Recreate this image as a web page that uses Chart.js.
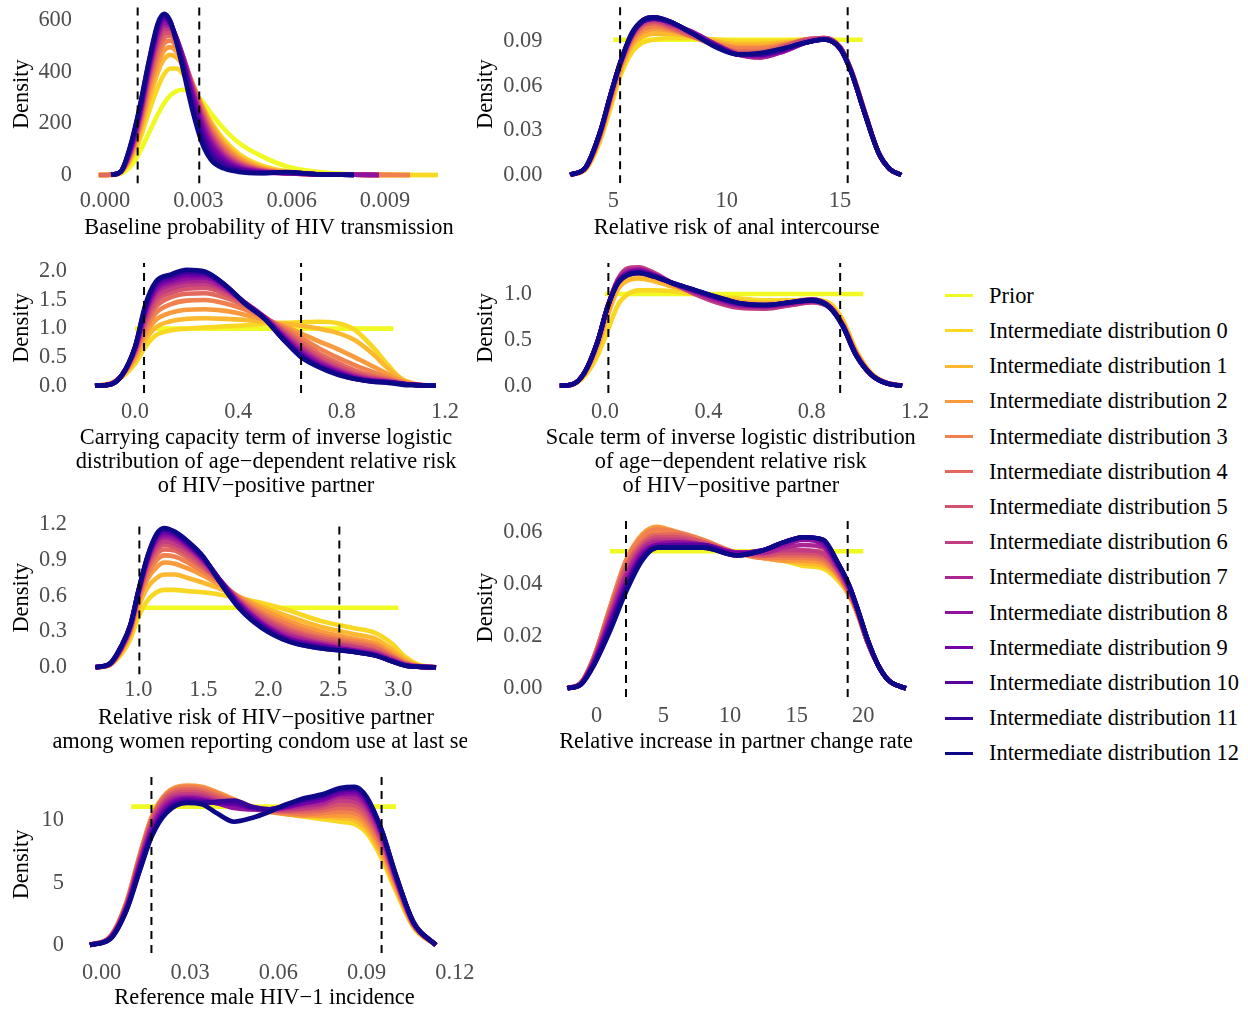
<!DOCTYPE html>
<html>
<head>
<meta charset="utf-8">
<script src="https://cdn.jsdelivr.net/npm/chart.js@4.4.1/dist/chart.umd.min.js"></script>
<style>
  html, body { margin: 0; padding: 0; background: #ffffff; }
  body { width: 1248px; height: 1013px; position: relative; overflow: hidden;
         font-family: "Liberation Serif", "Times New Roman", serif; }
  canvas { position: absolute; }
  .key { position: absolute; width: 28px; height: 3px; }
  .lab { position: absolute; font-size: 22.4px; line-height: 26px; color: #000; white-space: nowrap; }
</style>
</head>
<body>
<script>
// ---------- series ----------
const SERIES_NAMES = [
  "Prior",
  "Intermediate distribution 0", "Intermediate distribution 1", "Intermediate distribution 2",
  "Intermediate distribution 3", "Intermediate distribution 4", "Intermediate distribution 5",
  "Intermediate distribution 6", "Intermediate distribution 7", "Intermediate distribution 8",
  "Intermediate distribution 9", "Intermediate distribution 10", "Intermediate distribution 11",
  "Intermediate distribution 12"
];
const SERIES_COLORS = [
  "#F0F921", "#F9D824", "#FCB82E", "#F99B3D", "#F0814E", "#E3695E", "#D4526F",
  "#C13C82", "#AB2693", "#9212A0", "#7603A7", "#5802A2", "#350498", "#0D0887"
];

// ---------- Baseline probability of HIV transmission ----------
const baselineX = [-0.0002, 0.0002, 0.0005, 0.0008, 0.0011, 0.0014, 0.0017, 0.0019, 0.0021, 0.0023, 0.0025,
  0.0028, 0.0031, 0.0034, 0.0038, 0.0043, 0.0050, 0.0058, 0.0068, 0.0080, 0.0088, 0.0098, 0.0107];
const baselinePrior = [0, 0.5, 5, 30, 85, 160, 235, 278, 308, 325, 330, 318, 290, 240, 182, 125, 75, 35, 12, 3, 1, 0.2, 0];
const baselineInter = [
  [0, 1, 9, 50, 130, 240, 340, 390, 412, 412, 392, 338, 272, 208, 140, 82, 38, 15, 5, 1.5, 0.5, 0.2, 0],
  [0, 1, 10, 58, 152, 282, 398, 448, 465, 455, 425, 355, 275, 202, 130, 72, 31, 12, 4, 1, 0.3, 0, null],
  [0, 1, 11, 64, 168, 310, 432, 482, 495, 478, 440, 358, 270, 193, 120, 64, 27, 10, 3, 1, 0.3, 0, null],
  [0, 1, 11, 70, 180, 333, 460, 510, 520, 498, 452, 358, 262, 182, 110, 57, 23, 9, 3, 1, 0.3, 0, null],
  [0, 1, 12, 75, 192, 352, 484, 532, 540, 512, 460, 354, 252, 170, 100, 50, 20, 8, 3, 1, 0.2, null, null],
  [null, 1, 12, 80, 202, 368, 505, 550, 553, 520, 462, 348, 242, 160, 91, 45, 18, 7, 3, 1, 0.2, null, null],
  [null, 1, 12, 84, 210, 382, 522, 566, 565, 527, 463, 342, 232, 150, 83, 40, 16, 7, 3, 1, 0.2, null, null],
  [null, 1, 12, 88, 218, 393, 538, 579, 574, 530, 460, 334, 220, 138, 75, 35, 14, 7, 3, 1, 0.2, null, null],
  [null, 1, 12, 92, 226, 404, 552, 591, 580, 530, 455, 324, 206, 126, 67, 30, 12, 7, 3, 1, 0.2, null, null],
  [null, 0.5, 12, 96, 234, 414, 564, 602, 586, 528, 448, 310, 190, 112, 58, 26, 11, 8, 3, 0.5, null, null, null],
  [null, 0.5, 12, 100, 242, 422, 574, 610, 590, 524, 438, 294, 172, 96, 48, 21, 9, 9, 3, 0.5, null, null, null],
  [null, 0.5, 12, 104, 250, 430, 582, 617, 594, 518, 426, 276, 154, 80, 38, 16, 8, 10, 3, 0.5, null, null, null],
  [null, 0.5, 12, 108, 256, 436, 588, 624, 596, 512, 412, 255, 130, 60, 26, 12, 7, 11, 3, 0.5, null, null, null]
];
const baselineCuts = [0.00105, 0.00303];
const baselineXTicks = [0, 0.003, 0.006, 0.009];
const baselineXLabels = ["0.000", "0.003", "0.006", "0.009"];
const baselineYTicks = [0, 200, 400, 600];
const baselineYLabels = ["0", "200", "400", "600"];

// ---------- Relative risk of anal intercourse ----------
const analX = [3.1, 3.8, 4.4, 4.9, 5.3, 5.8, 6.3, 6.8, 7.5, 8.5, 9.5, 10.5, 11.5, 12.5, 13.5, 14.3, 15.0, 15.5, 16.1, 16.7, 17.2, 17.7];
const analPriorX = [5, 16];
const analPriorY = [0.0909, 0.0909];
const analInter = [
  [0, 0.004, 0.022, 0.046, 0.066, 0.082, 0.089, 0.091, 0.092, 0.092, 0.091, 0.090, 0.090, 0.090, 0.091, 0.091, 0.085, 0.069, 0.041, 0.015, 0.004, 0],
  [0, 0.0045, 0.024, 0.049, 0.069, 0.086, 0.093, 0.095, 0.095, 0.093, 0.090, 0.088, 0.088, 0.089, 0.090, 0.091, 0.085, 0.069, 0.041, 0.015, 0.004, 0],
  [0, 0.0048, 0.025, 0.051, 0.071, 0.088, 0.096, 0.098, 0.097, 0.093, 0.089, 0.086, 0.086, 0.088, 0.090, 0.091, 0.085, 0.070, 0.042, 0.015, 0.004, 0],
  [0, 0.005, 0.026, 0.052, 0.072, 0.090, 0.098, 0.100, 0.098, 0.093, 0.088, 0.085, 0.085, 0.087, 0.090, 0.091, 0.085, 0.070, 0.042, 0.015, 0.004, 0],
  [0, 0.005, 0.026, 0.053, 0.073, 0.091, 0.100, 0.102, 0.099, 0.093, 0.087, 0.083, 0.083, 0.087, 0.091, 0.092, 0.086, 0.070, 0.042, 0.015, 0.004, 0],
  [0, 0.0052, 0.027, 0.054, 0.074, 0.092, 0.101, 0.103, 0.100, 0.094, 0.087, 0.082, 0.081, 0.086, 0.091, 0.092, 0.086, 0.070, 0.042, 0.015, 0.004, 0],
  [0, 0.0053, 0.027, 0.054, 0.074, 0.093, 0.102, 0.104, 0.101, 0.095, 0.087, 0.081, 0.079, 0.084, 0.090, 0.092, 0.086, 0.070, 0.042, 0.015, 0.004, 0],
  [0, 0.0054, 0.027, 0.054, 0.075, 0.093, 0.103, 0.105, 0.102, 0.096, 0.088, 0.081, 0.079, 0.083, 0.089, 0.091, 0.086, 0.070, 0.042, 0.015, 0.004, 0],
  [0, 0.0055, 0.028, 0.055, 0.075, 0.094, 0.103, 0.105, 0.102, 0.096, 0.088, 0.081, 0.080, 0.083, 0.089, 0.091, 0.085, 0.069, 0.041, 0.015, 0.004, 0],
  [0, 0.0055, 0.028, 0.055, 0.075, 0.094, 0.104, 0.106, 0.103, 0.095, 0.087, 0.081, 0.081, 0.084, 0.089, 0.091, 0.085, 0.069, 0.041, 0.015, 0.004, 0],
  [0, 0.0056, 0.028, 0.055, 0.075, 0.094, 0.104, 0.106, 0.103, 0.095, 0.087, 0.081, 0.081, 0.084, 0.089, 0.091, 0.085, 0.069, 0.041, 0.015, 0.004, 0],
  [0, 0.0056, 0.028, 0.055, 0.075, 0.094, 0.103, 0.105, 0.103, 0.095, 0.087, 0.081, 0.081, 0.085, 0.089, 0.091, 0.085, 0.069, 0.041, 0.015, 0.004, 0],
  [0, 0.0056, 0.028, 0.055, 0.075, 0.095, 0.104, 0.106, 0.103, 0.095, 0.086, 0.081, 0.082, 0.085, 0.089, 0.091, 0.085, 0.069, 0.041, 0.015, 0.004, 0]
];
const analCuts = [5.3, 15.34];
const analXTicks = [5, 10, 15];
const analXLabels = ["5", "10", "15"];
const analYTicks = [0, 0.03, 0.06, 0.09];
const analYLabels = ["0.00", "0.03", "0.06", "0.09"];

// ---------- Carrying capacity term ----------
const capacityX = [-0.155, -0.1, -0.05, 0.0, 0.04, 0.08, 0.14, 0.2, 0.27, 0.35, 0.43, 0.5, 0.57, 0.64, 0.71, 0.78, 0.85, 0.92, 0.98, 1.04, 1.1, 1.165];
const capacityPriorX = [0, 1];
const capacityPriorY = [1, 1];
const capacityInter = [
  [0, 0.03, 0.15, 0.38, 0.68, 0.88, 0.97, 1.00, 1.02, 1.04, 1.06, 1.08, 1.10, 1.11, 1.12, 1.10, 0.98, 0.68, 0.36, 0.08, 0.01, 0],
  [0, 0.03, 0.17, 0.45, 0.80, 1.02, 1.13, 1.17, 1.18, 1.17, 1.15, 1.12, 1.09, 1.05, 1.00, 0.93, 0.80, 0.56, 0.30, 0.10, 0.02, 0],
  [0, 0.03, 0.18, 0.50, 0.90, 1.15, 1.28, 1.33, 1.34, 1.31, 1.24, 1.16, 1.05, 0.92, 0.78, 0.65, 0.50, 0.34, 0.20, 0.07, 0.015, 0],
  [0, 0.025, 0.18, 0.55, 0.98, 1.27, 1.43, 1.49, 1.50, 1.44, 1.33, 1.19, 1.03, 0.85, 0.66, 0.50, 0.36, 0.24, 0.14, 0.05, 0.01, 0],
  [0, 0.022, 0.18, 0.58, 1.06, 1.38, 1.55, 1.61, 1.62, 1.54, 1.39, 1.21, 1.00, 0.78, 0.57, 0.41, 0.27, 0.17, 0.11, 0.04, 0.01, 0],
  [0, 0.02, 0.18, 0.60, 1.12, 1.47, 1.63, 1.70, 1.71, 1.61, 1.42, 1.21, 0.97, 0.72, 0.51, 0.35, 0.22, 0.14, 0.09, 0.04, 0.01, 0],
  [0, 0.02, 0.18, 0.62, 1.18, 1.55, 1.70, 1.77, 1.78, 1.66, 1.44, 1.21, 0.94, 0.68, 0.46, 0.31, 0.19, 0.12, 0.08, 0.03, 0.01, 0],
  [0, 0.02, 0.18, 0.64, 1.24, 1.62, 1.77, 1.83, 1.84, 1.69, 1.44, 1.20, 0.91, 0.64, 0.43, 0.28, 0.17, 0.10, 0.07, 0.03, 0.01, 0],
  [0, 0.018, 0.19, 0.65, 1.28, 1.67, 1.82, 1.88, 1.89, 1.72, 1.44, 1.20, 0.89, 0.60, 0.40, 0.26, 0.15, 0.09, 0.07, 0.03, 0.01, 0],
  [0, 0.017, 0.19, 0.66, 1.32, 1.72, 1.86, 1.93, 1.93, 1.74, 1.43, 1.19, 0.87, 0.57, 0.37, 0.24, 0.14, 0.08, 0.06, 0.03, 0.008, 0],
  [0, 0.016, 0.19, 0.67, 1.35, 1.76, 1.90, 1.97, 1.96, 1.75, 1.43, 1.18, 0.85, 0.55, 0.35, 0.22, 0.12, 0.08, 0.06, 0.03, 0.008, 0],
  [0, 0.015, 0.19, 0.68, 1.38, 1.79, 1.93, 2.00, 1.98, 1.76, 1.42, 1.18, 0.83, 0.53, 0.34, 0.21, 0.12, 0.07, 0.06, 0.03, 0.008, 0],
  [0, 0.015, 0.19, 0.68, 1.42, 1.82, 1.95, 2.03, 2.00, 1.76, 1.42, 1.18, 0.83, 0.51, 0.33, 0.20, 0.12, 0.07, 0.05, 0.015, 0.005, 0]
];
const capacityCuts = [0.035, 0.643];
const capacityXTicks = [0, 0.4, 0.8, 1.2];
const capacityXLabels = ["0.0", "0.4", "0.8", "1.2"];
const capacityYTicks = [0, 0.5, 1, 1.5, 2];
const capacityYLabels = ["0.0", "0.5", "1.0", "1.5", "2.0"];

// ---------- Scale term ----------
const scaleX = [-0.175, -0.13, -0.08, -0.03, 0.01, 0.05, 0.09, 0.13, 0.19, 0.26, 0.34, 0.43, 0.52, 0.62, 0.72, 0.8, 0.87, 0.92, 0.97, 1.03, 1.09, 1.15];
const scalePriorX = [0, 1];
const scalePriorY = [1, 1];
const scaleInter = [
  [0, 0.01, 0.10, 0.32, 0.60, 0.88, 1.00, 1.04, 1.04, 1.03, 1.00, 0.97, 0.95, 0.93, 0.93, 0.94, 0.90, 0.72, 0.40, 0.14, 0.03, 0],
  [0, 0.01, 0.12, 0.40, 0.76, 1.05, 1.15, 1.17, 1.14, 1.08, 1.02, 0.96, 0.92, 0.90, 0.92, 0.94, 0.88, 0.70, 0.38, 0.13, 0.03, 0],
  [0, 0.01, 0.13, 0.43, 0.80, 1.10, 1.20, 1.22, 1.18, 1.10, 1.03, 0.95, 0.90, 0.88, 0.91, 0.93, 0.87, 0.68, 0.37, 0.13, 0.03, 0],
  [0, 0.01, 0.13, 0.45, 0.83, 1.13, 1.24, 1.25, 1.20, 1.11, 1.03, 0.94, 0.88, 0.87, 0.90, 0.92, 0.86, 0.67, 0.36, 0.13, 0.03, 0],
  [0, 0.01, 0.14, 0.46, 0.85, 1.15, 1.26, 1.27, 1.21, 1.12, 1.02, 0.93, 0.87, 0.86, 0.89, 0.92, 0.86, 0.67, 0.36, 0.12, 0.03, 0],
  [0, 0.01, 0.14, 0.47, 0.86, 1.16, 1.27, 1.28, 1.22, 1.12, 1.02, 0.92, 0.86, 0.85, 0.88, 0.91, 0.85, 0.66, 0.35, 0.12, 0.03, 0],
  [0, 0.01, 0.14, 0.47, 0.86, 1.16, 1.28, 1.29, 1.23, 1.12, 1.01, 0.91, 0.85, 0.84, 0.88, 0.91, 0.85, 0.66, 0.35, 0.12, 0.03, 0],
  [0, 0.01, 0.14, 0.47, 0.86, 1.15, 1.26, 1.27, 1.21, 1.12, 1.03, 0.93, 0.87, 0.86, 0.89, 0.92, 0.86, 0.66, 0.35, 0.12, 0.03, 0],
  [0, 0.01, 0.14, 0.47, 0.86, 1.14, 1.24, 1.26, 1.21, 1.12, 1.04, 0.95, 0.88, 0.87, 0.90, 0.93, 0.86, 0.66, 0.35, 0.12, 0.025, 0],
  [0, 0.01, 0.14, 0.47, 0.86, 1.13, 1.23, 1.25, 1.20, 1.12, 1.04, 0.96, 0.89, 0.87, 0.91, 0.94, 0.86, 0.66, 0.35, 0.12, 0.025, 0],
  [0, 0.01, 0.14, 0.47, 0.86, 1.13, 1.22, 1.24, 1.20, 1.12, 1.05, 0.96, 0.90, 0.88, 0.91, 0.94, 0.86, 0.65, 0.34, 0.12, 0.025, 0],
  [0, 0.01, 0.14, 0.47, 0.86, 1.12, 1.21, 1.23, 1.19, 1.12, 1.05, 0.97, 0.90, 0.88, 0.91, 0.93, 0.85, 0.65, 0.34, 0.12, 0.025, 0],
  [0, 0.01, 0.14, 0.47, 0.86, 1.12, 1.21, 1.23, 1.19, 1.12, 1.05, 0.97, 0.90, 0.88, 0.91, 0.93, 0.85, 0.65, 0.34, 0.12, 0.025, 0]
];
const scaleCuts = [0.013, 0.91];
const scaleXTicks = [0, 0.4, 0.8, 1.2];
const scaleXLabels = ["0.0", "0.4", "0.8", "1.2"];
const scaleYTicks = [0, 0.5, 1];
const scaleYLabels = ["0.0", "0.5", "1.0"];

// ---------- Relative risk among women reporting condom use ----------
const condomX = [0.67, 0.78, 0.87, 0.94, 1.0, 1.07, 1.14, 1.2, 1.28, 1.38, 1.5, 1.63, 1.78, 1.95, 2.15, 2.4, 2.65, 2.82, 2.95, 3.05, 3.15, 3.29];
const condomPriorX = [1, 3];
const condomPriorY = [0.5, 0.5];
const condomInter = [
  [0, 0.02, 0.11, 0.24, 0.42, 0.56, 0.63, 0.65, 0.65, 0.64, 0.63, 0.61, 0.58, 0.54, 0.48, 0.39, 0.33, 0.29, 0.20, 0.09, 0.025, 0],
  [0, 0.02, 0.13, 0.28, 0.50, 0.67, 0.75, 0.78, 0.78, 0.75, 0.71, 0.66, 0.59, 0.51, 0.43, 0.34, 0.28, 0.24, 0.15, 0.07, 0.015, 0],
  [0, 0.02, 0.14, 0.30, 0.54, 0.74, 0.84, 0.88, 0.87, 0.83, 0.77, 0.69, 0.59, 0.49, 0.39, 0.30, 0.24, 0.20, 0.12, 0.05, 0.012, 0],
  [0, 0.02, 0.15, 0.31, 0.56, 0.78, 0.90, 0.94, 0.93, 0.88, 0.80, 0.71, 0.58, 0.46, 0.36, 0.27, 0.22, 0.18, 0.10, 0.04, 0.01, 0],
  [0, 0.02, 0.15, 0.32, 0.58, 0.82, 0.95, 0.99, 0.98, 0.92, 0.83, 0.72, 0.57, 0.44, 0.33, 0.25, 0.20, 0.16, 0.09, 0.035, 0.01, 0],
  [0, 0.025, 0.16, 0.33, 0.60, 0.85, 0.99, 1.03, 1.01, 0.95, 0.85, 0.72, 0.56, 0.42, 0.31, 0.23, 0.18, 0.14, 0.08, 0.03, 0.008, 0],
  [0, 0.025, 0.16, 0.34, 0.61, 0.87, 1.02, 1.06, 1.04, 0.98, 0.87, 0.73, 0.55, 0.40, 0.29, 0.21, 0.17, 0.13, 0.07, 0.025, 0.007, 0],
  [0, 0.025, 0.17, 0.34, 0.62, 0.89, 1.05, 1.09, 1.07, 1.00, 0.89, 0.73, 0.54, 0.38, 0.27, 0.20, 0.15, 0.12, 0.06, 0.02, 0.006, 0],
  [0, 0.027, 0.17, 0.35, 0.63, 0.90, 1.07, 1.11, 1.09, 1.02, 0.90, 0.73, 0.53, 0.37, 0.25, 0.19, 0.14, 0.11, 0.06, 0.02, 0.005, 0],
  [0, 0.028, 0.17, 0.35, 0.63, 0.91, 1.09, 1.13, 1.11, 1.03, 0.91, 0.73, 0.52, 0.36, 0.24, 0.18, 0.14, 0.10, 0.055, 0.018, 0.005, 0],
  [0, 0.029, 0.18, 0.36, 0.64, 0.92, 1.10, 1.15, 1.12, 1.04, 0.92, 0.73, 0.51, 0.35, 0.23, 0.17, 0.13, 0.10, 0.05, 0.016, 0.004, 0],
  [0, 0.03, 0.18, 0.36, 0.64, 0.93, 1.11, 1.16, 1.13, 1.05, 0.92, 0.72, 0.50, 0.34, 0.22, 0.16, 0.13, 0.10, 0.05, 0.015, 0.004, 0],
  [0, 0.03, 0.18, 0.36, 0.64, 0.93, 1.12, 1.17, 1.14, 1.06, 0.93, 0.71, 0.49, 0.33, 0.22, 0.16, 0.13, 0.10, 0.05, 0.015, 0.004, 0]
];
const condomCuts = [1.008, 2.546];
const condomXTicks = [1, 1.5, 2, 2.5, 3];
const condomXLabels = ["1.0", "1.5", "2.0", "2.5", "3.0"];
const condomYTicks = [0, 0.3, 0.6, 0.9, 1.2];
const condomYLabels = ["0.0", "0.3", "0.6", "0.9", "1.2"];

// ---------- Relative increase in partner change rate ----------
const partnerX = [-2.2, -1.2, -0.2, 1.0, 2.2, 3.4, 4.5, 6, 8, 10.5, 12.5, 14, 15.5, 17, 18, 18.9, 19.6, 20.3, 21.1, 21.9, 22.6, 23.2];
const partnerPriorX = [1, 20];
const partnerPriorY = [0.0526, 0.0526];
const partnerInter = [
  [0, 0.002, 0.012, 0.030, 0.046, 0.054, 0.057, 0.057, 0.055, 0.052, 0.050, 0.049, 0.047, 0.046, 0.042, 0.036, 0.028, 0.018, 0.009, 0.003, 0.001, 0],
  [0, 0.002, 0.012, 0.031, 0.048, 0.057, 0.060, 0.059, 0.056, 0.052, 0.050, 0.049, 0.048, 0.047, 0.043, 0.036, 0.028, 0.018, 0.009, 0.003, 0.001, 0],
  [0, 0.002, 0.012, 0.031, 0.049, 0.059, 0.062, 0.060, 0.056, 0.052, 0.050, 0.049, 0.049, 0.048, 0.044, 0.037, 0.028, 0.018, 0.009, 0.003, 0.001, 0],
  [0, 0.002, 0.012, 0.031, 0.049, 0.058, 0.061, 0.060, 0.057, 0.052, 0.050, 0.050, 0.050, 0.049, 0.044, 0.037, 0.029, 0.018, 0.009, 0.003, 0.001, 0],
  [0, 0.002, 0.012, 0.030, 0.047, 0.056, 0.059, 0.059, 0.056, 0.052, 0.051, 0.051, 0.051, 0.050, 0.045, 0.037, 0.029, 0.018, 0.009, 0.003, 0.001, 0],
  [0, 0.002, 0.011, 0.029, 0.046, 0.055, 0.058, 0.058, 0.056, 0.052, 0.051, 0.052, 0.052, 0.051, 0.046, 0.038, 0.029, 0.018, 0.009, 0.003, 0.001, 0],
  [0, 0.0018, 0.011, 0.028, 0.044, 0.054, 0.057, 0.057, 0.055, 0.052, 0.052, 0.053, 0.053, 0.052, 0.046, 0.038, 0.029, 0.018, 0.009, 0.003, 0.001, 0],
  [0, 0.0017, 0.011, 0.027, 0.043, 0.053, 0.056, 0.056, 0.055, 0.052, 0.052, 0.054, 0.055, 0.054, 0.047, 0.039, 0.029, 0.018, 0.009, 0.003, 0.001, 0],
  [0, 0.0016, 0.010, 0.026, 0.041, 0.052, 0.055, 0.056, 0.055, 0.052, 0.053, 0.055, 0.057, 0.055, 0.048, 0.039, 0.030, 0.019, 0.009, 0.003, 0.001, 0],
  [0, 0.0015, 0.010, 0.025, 0.040, 0.051, 0.055, 0.055, 0.055, 0.052, 0.053, 0.056, 0.058, 0.056, 0.048, 0.040, 0.030, 0.019, 0.009, 0.003, 0.001, 0],
  [0, 0.0015, 0.0095, 0.024, 0.039, 0.050, 0.054, 0.055, 0.055, 0.051, 0.053, 0.056, 0.058, 0.057, 0.049, 0.040, 0.030, 0.019, 0.009, 0.003, 0.001, 0],
  [0, 0.0014, 0.009, 0.023, 0.038, 0.050, 0.054, 0.054, 0.054, 0.051, 0.053, 0.056, 0.058, 0.057, 0.049, 0.040, 0.030, 0.019, 0.009, 0.003, 0.001, 0],
  [0, 0.0014, 0.009, 0.022, 0.037, 0.049, 0.054, 0.054, 0.054, 0.051, 0.053, 0.056, 0.058, 0.057, 0.049, 0.040, 0.030, 0.019, 0.009, 0.003, 0.001, 0]
];
const partnerCuts = [2.2, 18.83];
const partnerXTicks = [0, 5, 10, 15, 20];
const partnerXLabels = ["0", "5", "10", "15", "20"];
const partnerYTicks = [0, 0.02, 0.04, 0.06];
const partnerYLabels = ["0.00", "0.02", "0.04", "0.06"];

// ---------- Reference male HIV-1 incidence ----------
const incidenceX = [-0.004, 0.003, 0.0085, 0.013, 0.017, 0.022, 0.029, 0.034, 0.039, 0.045, 0.051, 0.057, 0.063, 0.069, 0.075, 0.081, 0.086, 0.09, 0.095, 0.1, 0.106, 0.1135];
const incidencePriorX = [0.01, 0.1];
const incidencePriorY = [11.11, 11.11];
const incidenceInter = [
  [0, 0.7, 3.5, 7.2, 10.0, 11.8, 12.3, 12.2, 11.9, 11.5, 11.1, 10.8, 10.5, 10.3, 10.1, 9.9, 9.7, 9.0, 7.0, 4.3, 1.4, 0],
  [0, 0.7, 3.5, 7.3, 10.2, 12.1, 12.6, 12.5, 12.1, 11.6, 11.1, 10.8, 10.5, 10.4, 10.3, 10.2, 10.0, 9.3, 7.3, 4.5, 1.5, 0],
  [0, 0.7, 3.5, 7.3, 10.3, 12.2, 12.8, 12.7, 12.3, 11.7, 11.1, 10.7, 10.5, 10.4, 10.4, 10.4, 10.3, 9.6, 7.6, 4.7, 1.5, 0],
  [0, 0.7, 3.4, 7.2, 10.2, 12.1, 12.7, 12.6, 12.2, 11.6, 11.1, 10.7, 10.6, 10.5, 10.6, 10.7, 10.6, 9.9, 7.9, 4.9, 1.6, 0],
  [0, 0.7, 3.4, 7.1, 10.1, 12.0, 12.5, 12.4, 12.0, 11.5, 11.0, 10.8, 10.7, 10.7, 10.8, 11.0, 10.9, 10.2, 8.2, 5.0, 1.6, 0],
  [0, 0.65, 3.3, 7.0, 9.9, 11.8, 12.3, 12.2, 11.8, 11.3, 11.0, 10.8, 10.8, 10.9, 11.0, 11.3, 11.2, 10.5, 8.4, 5.1, 1.7, 0],
  [0, 0.6, 3.2, 6.8, 9.7, 11.6, 12.1, 12.0, 11.6, 11.2, 10.9, 10.8, 10.9, 11.0, 11.2, 11.6, 11.5, 10.8, 8.6, 5.2, 1.7, 0],
  [0, 0.6, 3.1, 6.7, 9.5, 11.4, 11.9, 11.8, 11.5, 11.1, 10.9, 10.9, 11.0, 11.2, 11.4, 11.9, 11.8, 11.1, 8.8, 5.3, 1.7, 0],
  [0, 0.6, 3.0, 6.5, 9.3, 11.2, 11.8, 11.7, 11.4, 11.0, 10.9, 10.9, 11.1, 11.4, 11.6, 12.1, 12.1, 11.3, 9.0, 5.4, 1.7, 0],
  [0, 0.55, 3.0, 6.4, 9.1, 11.0, 11.7, 11.6, 11.4, 11.3, 11.0, 10.9, 11.1, 11.4, 11.7, 12.2, 12.3, 11.5, 9.1, 5.5, 1.8, 0],
  [0, 0.55, 2.9, 6.2, 8.9, 10.8, 11.6, 11.5, 11.4, 11.4, 11.0, 10.9, 11.2, 11.6, 11.9, 12.4, 12.5, 11.7, 9.2, 5.5, 1.8, 0],
  [0, 0.5, 2.9, 6.1, 8.8, 10.7, 11.5, 11.4, 11.5, 11.6, 11.1, 10.9, 11.3, 11.7, 12.0, 12.5, 12.6, 11.8, 9.3, 5.6, 1.8, 0],
  [0, 0.5, 2.8, 6.0, 8.7, 10.6, 11.4, 11.3, 10.6, 9.9, 10.2, 10.7, 11.3, 11.8, 12.1, 12.6, 12.7, 11.9, 9.3, 5.6, 1.8, 0]
];
const incidenceCuts = [0.0169, 0.0951];
const incidenceXTicks = [0, 0.03, 0.06, 0.09, 0.12];
const incidenceXLabels = ["0.00", "0.03", "0.06", "0.09", "0.12"];
const incidenceYTicks = [0, 5, 10];
const incidenceYLabels = ["0", "5", "10"];

// ---------- panel definitions ----------
// canvas: cx, cy, cw, ch (page px); plot area: L, T, R, B (page px)
const PANELS = [
  { x: baselineX, priorX: baselineX, priorY: baselinePrior, inter: baselineInter, cuts: baselineCuts,
    xt: baselineXTicks, xl: baselineXLabels, yt: baselineYTicks, yl: baselineYLabels,
    title: ["Baseline probability of HIV transmission"],
    cx: 0, cy: 0, cw: 468, ch: 245, L: 83, T: 5, R: 455, B: 183.5,
    xr: [-0.000707, 0.01125], yr: [-32.9, 658.1], tickPad: 7, titleBase: 234, titleGap: 24.5, yTitleX: 22 },
  { x: analX, priorX: analPriorX, priorY: analPriorY, inter: analInter, cuts: analCuts,
    xt: analXTicks, xl: analXLabels, yt: analYTicks, yl: analYLabels,
    title: ["Relative risk of anal intercourse"],
    cx: 470, cy: 0, cw: 460, ch: 245, L: 553.5, T: 5, R: 920, B: 183.3,
    xr: [2.362, 18.53], yr: [-0.00557, 0.1142], tickPad: 7, titleBase: 234, titleGap: 24.5, yTitleX: 486 },
  { x: capacityX, priorX: capacityPriorX, priorY: capacityPriorY, inter: capacityInter, cuts: capacityCuts,
    xt: capacityXTicks, xl: capacityXLabels, yt: capacityYTicks, yl: capacityYLabels,
    title: ["Carrying capacity term of inverse logistic",
            "distribution of age\u2212dependent relative risk",
            "of HIV\u2212positive partner"],
    cx: 0, cy: 245, cw: 468, ch: 255, L: 78, T: 263, R: 454, B: 393,
    xr: [-0.2207, 1.235], yr: [-0.128, 2.149], tickPad: 7.7, titleBase: 443.5, titleGap: 24.3, yTitleX: 22 },
  { x: scaleX, priorX: scalePriorX, priorY: scalePriorY, inter: scaleInter, cuts: scaleCuts,
    xt: scaleXTicks, xl: scaleXLabels, yt: scaleYTicks, yl: scaleYLabels,
    title: ["Scale term of inverse logistic distribution",
            "of age\u2212dependent relative risk",
            "of HIV\u2212positive partner"],
    cx: 470, cy: 245, cw: 460, ch: 255, L: 543, T: 263, R: 918.6, B: 393,
    xr: [-0.24, 1.2136], yr: [-0.0796, 1.338], tickPad: 7.7, titleBase: 443.5, titleGap: 24.3, yTitleX: 486 },
  { x: condomX, priorX: condomPriorX, priorY: condomPriorY, inter: condomInter, cuts: condomCuts,
    xt: condomXTicks, xl: condomXLabels, yt: condomYTicks, yl: condomYLabels,
    title: ["Relative risk of HIV\u2212positive partner",
            "among women reporting condom use at last sex"],
    cx: 0, cy: 500, cw: 467, ch: 255, L: 78, T: 521, R: 454, B: 674.5,
    xr: [0.536, 3.428], yr: [-0.0605, 1.229], tickPad: 4.5, titleBase: 723.5, titleGap: 24, yTitleX: 22 },
  { x: partnerX, priorX: partnerPriorX, priorY: partnerPriorY, inter: partnerInter, cuts: partnerCuts,
    xt: partnerXTicks, xl: partnerXLabels, yt: partnerYTicks, yl: partnerYLabels,
    title: ["Relative increase in partner change rate"],
    cx: 470, cy: 500, cw: 460, ch: 255, L: 553.4, T: 518.3, R: 918.6, B: 697,
    xr: [-3.248, 24.15], yr: [-0.00334, 0.06526], tickPad: 7.7, titleBase: 747.5, titleGap: 24, yTitleX: 486 },
  { x: incidenceX, priorX: incidencePriorX, priorY: incidencePriorY, inter: incidenceInter, cuts: incidenceCuts,
    xt: incidenceXTicks, xl: incidenceXLabels, yt: incidenceYTicks, yl: incidenceYLabels,
    title: ["Reference male HIV\u22121 incidence"],
    cx: 0, cy: 755, cw: 480, ch: 258, L: 75, T: 776, R: 454, B: 953,
    xr: [-0.00907, 0.1197], yr: [-0.643, 13.57], tickPad: 9.3, titleBase: 1003.5, titleGap: 24, yTitleX: 22 }
];

const FONT = "'Liberation Serif', 'Times New Roman', serif";
const FONT_SIZE = 22.4;
Chart.defaults.font.family = FONT;
Chart.defaults.font.size = FONT_SIZE;

// x-axis titles drawn centred under the plot area (long lines may run past the canvas edge)
const xTitlePlugin = {
  id: 'xTitle',
  afterDraw(chart, args, opts) {
    const { ctx, chartArea } = chart;
    ctx.save();
    ctx.font = FONT_SIZE + "px " + FONT;
    ctx.fillStyle = '#000000';
    ctx.textAlign = 'center';
    ctx.textBaseline = 'alphabetic';
    const mid = (chartArea.left + chartArea.right) / 2;
    opts.lines.forEach((t, i) => ctx.fillText(t, mid, opts.first + i * opts.gap));
    ctx.restore();
  }
};

function toPoints(xs, ys) {
  const pts = [];
  for (let i = 0; i < xs.length; i++) {
    if (ys[i] !== null && ys[i] !== undefined) pts.push({ x: xs[i], y: ys[i] });
  }
  return pts;
}

function zeroPad(s) { s.paddingTop = 0; s.paddingBottom = 0; s.paddingLeft = 0; s.paddingRight = 0; }

PANELS.forEach((p) => {
  const canvas = document.createElement('canvas');
  canvas.width = p.cw;
  canvas.height = p.ch;
  canvas.style.left = p.cx + 'px';
  canvas.style.top = p.cy + 'px';
  canvas.style.width = p.cw + 'px';
  canvas.style.height = p.ch + 'px';
  document.body.appendChild(canvas);

  const yAxisWidth = p.L - p.cx;
  const xAxisHeight = p.ch - (p.B - p.cy);
  const half = FONT_SIZE / 2;

  const datasets = [];
  // reference cut-offs on top of everything
  p.cuts.forEach((c) => {
    datasets.push({
      data: [{ x: c, y: p.yr[0] }, { x: c, y: p.yr[1] }],
      borderColor: '#000000', borderWidth: 2, borderDash: [8, 6],
      pointRadius: 0, fill: false, order: 0
    });
  });
  // prior then intermediate distributions; later ones drawn above earlier ones
  const series = [{ xs: p.priorX, ys: p.priorY }].concat(p.inter.map((ys) => ({ xs: p.x, ys })));
  series.forEach((s, i) => {
    datasets.push({
      label: SERIES_NAMES[i],
      data: toPoints(s.xs, s.ys),
      borderColor: SERIES_COLORS[i],
      borderWidth: 4.6,
      pointRadius: 0,
      fill: false,
      cubicInterpolationMode: 'monotone',
      borderCapStyle: 'butt',
      borderJoinStyle: 'round',
      order: 14 - i
    });
  });

  new Chart(canvas, {
    type: 'line',
    data: { datasets },
    plugins: [xTitlePlugin],
    options: {
      responsive: false,
      animation: false,
      events: [],
      devicePixelRatio: 1,
      layout: { padding: { left: 0, top: p.T - p.cy, right: p.cw - (p.R - p.cx), bottom: 0 } },
      plugins: {
        legend: { display: false },
        tooltip: { enabled: false },
        xTitle: { lines: p.title, first: p.titleBase - p.cy, gap: p.titleGap }
      },
      scales: {
        x: {
          type: 'linear', min: p.xr[0], max: p.xr[1],
          grid: { display: false, drawTicks: false },
          border: { display: false },
          ticks: {
            color: '#4D4D4D', font: { size: FONT_SIZE, lineHeight: 1 }, padding: p.tickPad - (half - 11),
            autoSkip: false, maxRotation: 0, minRotation: 0,
            callback: (v, i) => p.xl[i]
          },
          afterBuildTicks: (s) => { s.ticks = p.xt.map((v) => ({ value: v })); },
          afterFit: (s) => { s.height = xAxisHeight; zeroPad(s); }
        },
        y: {
          type: 'linear', min: p.yr[0], max: p.yr[1],
          grid: { display: false, drawTicks: false },
          border: { display: false },
          ticks: {
            color: '#4D4D4D', font: { size: FONT_SIZE, lineHeight: 1 }, padding: 11,
            autoSkip: false, callback: (v, i) => p.yl[i]
          },
          afterBuildTicks: (s) => { s.ticks = p.yt.map((v) => ({ value: v })); },
          afterFit: (s) => { s.width = yAxisWidth; zeroPad(s); },
          title: {
            display: true, text: 'Density', color: '#000000',
            font: { size: FONT_SIZE, lineHeight: 1 },
            padding: { top: p.yTitleX - p.cx - half, bottom: 0 }
          }
        }
      }
    }
  });
});

// ---------- legend ----------
SERIES_NAMES.forEach((name, i) => {
  const yc = 295.7 + 35.2 * i;
  const key = document.createElement('div');
  key.className = 'key';
  key.style.left = '945px';
  key.style.top = (yc - 1.5) + 'px';
  key.style.background = SERIES_COLORS[i];
  document.body.appendChild(key);
  const lab = document.createElement('div');
  lab.className = 'lab';
  lab.style.left = '989px';
  lab.style.top = (yc - 13) + 'px';
  lab.textContent = name;
  document.body.appendChild(lab);
});
</script>
</body>
</html>
